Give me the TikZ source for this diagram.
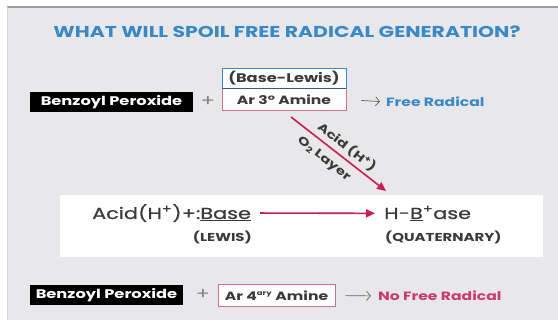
\documentclass[tikz,border=0pt]{standalone}
\usepackage{fontspec}
\setmainfont{Poppins}[FakeStretch=1.3]
\newfontfamily\medfont{Poppins}[FakeStretch=1.3, FakeBold=0.6]
\usetikzlibrary{arrows.meta}
\definecolor{bgc}{HTML}{E8E8EA}
\definecolor{blu}{HTML}{3A89C6}
\definecolor{crim}{HTML}{C81E50}
\definecolor{pinkred}{HTML}{C93A6E}
\definecolor{pinkbox}{HTML}{C8708E}
\definecolor{txt}{HTML}{3A3A3A}
\tikzset{
  bpbox/.style={fill=black, text=white, font=\bfseries\fontsize{12.5}{14}\selectfont, minimum height=20pt, inner sep=0pt},
  plus/.style={text=gray, font=\fontsize{16}{16}\selectfont, inner sep=0pt},
  amibox/.style={draw=pinkbox, fill=white, text=txt, line width=0.8pt, font=\bfseries\fontsize{12}{14}\selectfont, inner sep=0pt},
  lewbox/.style={draw=blu, fill=white, text=txt, line width=0.8pt, font=\bfseries\fontsize{12.5}{14}\selectfont, minimum width=124pt, minimum height=20pt, inner sep=0pt},
  txtarrow/.style={draw=txt!80, line width=0.7pt, -{Straight Barb[length=4pt,width=9pt]}},
  redarrow/.style={draw=crim, line width=1.6pt, -{Triangle[length=9pt,width=8pt]}},
  eqtext/.style={text=txt, font=\medfont\fontsize{16}{18}\selectfont, inner sep=0pt},
  small/.style={text=txt, font=\bfseries\fontsize{11.5}{13}\selectfont, inner sep=0pt},
  difflbl/.style={text=txt, font=\bfseries\fontsize{11.5}{13}\selectfont, inner sep=0pt},
}
\begin{document}
\begin{tikzpicture}[x=1pt,y=-1pt]
\useasboundingbox (0,0) rectangle (558,320);
\fill[white] (0,0) rectangle (558,320);
\fill[bgc] (7,7) rectangle (558,320);
\draw[gray!75, line width=1.5pt] (7,7) -- (558,7);
\draw[gray!35, line width=1pt] (7,7) -- (7,320);

\node[text=blu, font=\bfseries\fontsize{15.7}{17}\selectfont, inner sep=0pt] (title) at (287,32) {WHAT WILL SPOIL FREE RADICAL GENERATION?};

% first row
\node[bpbox, minimum width=163pt] (bp1) at (111.5,102) {Benzoyl Peroxide};
\node[plus] (plus1) at (208,102) {+};
\node[lewbox] (lewis) at (284,78) {(Base-Lewis)};
\node[amibox, minimum width=124pt, minimum height=22pt] (amine3) at (284,99.5) {Ar 3° Amine};
\draw[blu!70!black, line width=0.8pt] (amine3.north west) -- (amine3.north east);
\node[anchor=west, text=blu, font=\bfseries\fontsize{12}{14}\selectfont, inner sep=0pt] (fr1) at (386,102) {Free Radical};
\draw[txtarrow, shorten <=15pt, shorten >=6pt] (amine3.east) -- (fr1.west);

% diagonal arrow
\coordinate (dstart) at (291,117);
\coordinate (dend) at (386,191);
\draw[redarrow] (dstart) -- (dend)
  node[pos=0.52, sloped, above=3.5pt, difflbl] (acidlbl) {Acid (H\textsuperscript{+})}
  node[pos=0.43, sloped, below=7pt, difflbl] (o2lbl) {O\textsubscript{2} Layer};

% white panel
\node[fill=white, minimum width=483pt, minimum height=62pt, inner sep=0pt] (panel) at (301.5,226) {};
\node[eqtext, anchor=base west] (acidbase) at (92,219) {Acid(H\textsuperscript{+})+:\underline{Base}};
\node[small, anchor=base east] (lewislbl) at (252,242) {(LEWIS)};
\node[eqtext, anchor=base west] (hbase) at (384,219) {H-\underline{B}\textsuperscript{+}ase};
\node[small, anchor=base west] (quat) at (385,242) {(QUATERNARY)};
\draw[redarrow, shorten <=9pt, shorten >=9pt] (acidbase.east) -- (hbase.west);

% bottom row
\node[bpbox, minimum width=153pt] (bp2) at (106.5,295) {Benzoyl Peroxide};
\node[plus] (plus2) at (203,295) {+};
\node[amibox, minimum height=22pt, minimum width=117pt] (amine4) at (276.5,295.5) {Ar 4\textsuperscript{\fontsize{6.5}{7}\selectfont ary} Amine};
\node[anchor=west, text=pinkred, font=\bfseries\fontsize{12}{14}\selectfont, inner sep=0pt] (nfr) at (378,296) {No Free Radical};
\draw[txtarrow, shorten <=10pt, shorten >=7pt] (amine4.east) -- (nfr.west);
\end{tikzpicture}
\end{document}
